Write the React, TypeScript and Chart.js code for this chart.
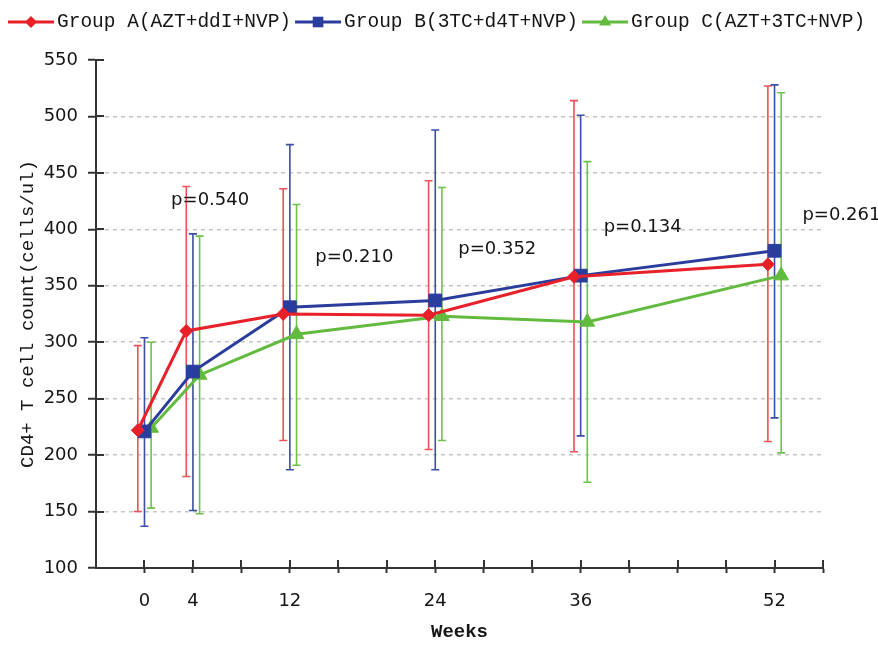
import React, { useEffect, useRef } from 'react';
import { Chart, registerables } from 'chart.js';
import { drawPoint } from 'chart.js/helpers';

Chart.register(...registerables);

// ---- data ----
const WEEKS = [0, 4, 12, 24, 36, 52];
const LABELED_WEEKS = [0, 4, 12, 24, 36, 52];
const SERIES_NAMES = ['Group A(AZT+ddI+NVP)', 'Group B(3TC+d4T+NVP)', 'Group C(AZT+3TC+NVP)'];
const X_OFFSETS = [-0.55, 0, 0.55];

const GROUP_A_MEAN = [222, 310, 325, 324, 358, 369];
const GROUP_A_UPPER = [297, 438, 436, 443, 514, 527];
const GROUP_A_LOWER = [150, 181, 213, 205, 203, 212];

const GROUP_B_MEAN = [221, 274, 331, 337, 359, 381];
const GROUP_B_UPPER = [304, 396, 475, 488, 501, 528];
const GROUP_B_LOWER = [137, 151, 187, 187, 217, 233];

const GROUP_C_MEAN = [224, 271, 307, 323, 318, 359];
const GROUP_C_UPPER = [300, 394, 422, 437, 460, 521];
const GROUP_C_LOWER = [153, 148, 191, 213, 176, 202];

const P_LABELS = ['p=0.540', 'p=0.210', 'p=0.352', 'p=0.134', 'p=0.261'];
const P_X = [2.2, 14.1, 25.9, 37.9, 54.3];
const P_Y = [426, 375, 382, 402, 412];

const Y_MIN = 100;
const Y_MAX = 550;
const Y_STEP = 50;
const X_MIN = -4;
const X_MAX = 56;
const X_STEP = 4;

// ---- styles ----
const MEANS = [GROUP_A_MEAN, GROUP_B_MEAN, GROUP_C_MEAN];
const UPPERS = [GROUP_A_UPPER, GROUP_B_UPPER, GROUP_C_UPPER];
const LOWERS = [GROUP_A_LOWER, GROUP_B_LOWER, GROUP_C_LOWER];
const LINE_COLORS = ['#e8202a', '#2b3d9c', '#62bb3e'];
const BAR_COLORS = ['#ef5055', '#3d4ca6', '#6cc24a'];
const POINT_STYLES = ['rectRot', 'rect', 'triangle'];
const POINT_RADII = [6.5, 9, 8.5];
const LEGEND_RADII = [6, 7.5, 7];
const AXIS_COLOR = '#333333';
const TEXT_COLOR = '#151515';
const SANS = "'DejaVu Sans', sans-serif";
const MONO = "'Liberation Mono', monospace";

const errorBarPlugin = {
  id: 'errorBars',
  beforeDatasetsDraw(chart: any) {
    const { ctx } = chart;
    const yScale = chart.scales.y;
    ctx.save();
    chart.data.datasets.forEach((_ds: any, i: number) => {
      const meta = chart.getDatasetMeta(i);
      ctx.strokeStyle = BAR_COLORS[i];
      ctx.lineWidth = 1.6;
      meta.data.forEach((pt: any, j: number) => {
        const x = pt.x;
        const yTop = yScale.getPixelForValue(UPPERS[i][j]);
        const yBot = yScale.getPixelForValue(LOWERS[i][j]);
        ctx.beginPath();
        ctx.moveTo(x, yTop);
        ctx.lineTo(x, yBot);
        ctx.moveTo(x - 4, yTop);
        ctx.lineTo(x + 4, yTop);
        ctx.moveTo(x - 4, yBot);
        ctx.lineTo(x + 4, yBot);
        ctx.stroke();
      });
    });
    ctx.restore();
  },
};

const annotationPlugin = {
  id: 'pLabels',
  afterDatasetsDraw(chart: any) {
    const { ctx } = chart;
    const xs = chart.scales.x;
    const ys = chart.scales.y;
    ctx.save();
    ctx.font = `18px ${SANS}`;
    ctx.fillStyle = TEXT_COLOR;
    ctx.textAlign = 'left';
    ctx.textBaseline = 'middle';
    P_LABELS.forEach((t, i) => {
      ctx.fillText(t, xs.getPixelForValue(P_X[i]), ys.getPixelForValue(P_Y[i]));
    });
    ctx.restore();
  },
};

const innerTicksPlugin = {
  id: 'innerTicks',
  afterDraw(chart: any) {
    const { ctx, chartArea } = chart;
    const xs = chart.scales.x;
    const ys = chart.scales.y;
    ctx.save();
    ctx.strokeStyle = AXIS_COLOR;
    ctx.lineWidth = 2;
    ctx.beginPath();
    xs.ticks.forEach((t: any) => {
      if (t.value === X_MIN) return;
      const x = Math.round(xs.getPixelForValue(t.value));
      ctx.moveTo(x, chartArea.bottom);
      ctx.lineTo(x, chartArea.bottom - 8);
    });
    ys.ticks.forEach((t: any) => {
      const y = Math.round(ys.getPixelForValue(t.value));
      ctx.moveTo(chartArea.left, y);
      ctx.lineTo(chartArea.left + 8, y);
    });
    ctx.stroke();
    ctx.restore();
  },
};

const legendPlugin = {
  id: 'customLegend',
  afterDraw(chart: any) {
    const { ctx } = chart;
    ctx.save();
    ctx.font = `19.5px ${MONO}`;
    ctx.textBaseline = 'middle';
    ctx.textAlign = 'left';
    const cy = 22;
    let x = 8;
    chart.data.datasets.forEach((ds: any, i: number) => {
      const lineLen = 46;
      ctx.strokeStyle = LINE_COLORS[i];
      ctx.lineWidth = 3;
      ctx.beginPath();
      ctx.moveTo(x, cy);
      ctx.lineTo(x + lineLen, cy);
      ctx.stroke();
      ctx.fillStyle = LINE_COLORS[i];
      drawPoint(ctx, { pointStyle: POINT_STYLES[i], radius: LEGEND_RADII[i], rotation: 0, borderWidth: 0 } as any, x + lineLen / 2, cy);
      ctx.fillStyle = TEXT_COLOR;
      const tx = x + lineLen + 3;
      ctx.fillText(ds.label, tx, cy);
      x = tx + ctx.measureText(ds.label).width + 4;
    });
    ctx.restore();
  },
};

export default function App() {
  const canvasRef = useRef<HTMLCanvasElement | null>(null);

  useEffect(() => {
    const canvas = canvasRef.current;
    if (!canvas) return;
    const datasets = MEANS.map((means, i) => ({
      label: SERIES_NAMES[i],
      data: WEEKS.map((w, j) => ({ x: w + X_OFFSETS[i], y: means[j] })),
      borderColor: LINE_COLORS[i],
      backgroundColor: LINE_COLORS[i],
      borderWidth: 3,
      pointStyle: POINT_STYLES[i],
      pointRadius: POINT_RADII[i],
      pointBorderWidth: 1,
      pointBorderColor: LINE_COLORS[i],
      pointBackgroundColor: LINE_COLORS[i],
      tension: 0,
      fill: false,
    }));

    const chart = new Chart(canvas, {
      type: 'line',
      data: { datasets },
      plugins: [errorBarPlugin, annotationPlugin, innerTicksPlugin, legendPlugin],
      options: {
        animation: false,
        responsive: true,
        maintainAspectRatio: false,
        layout: { padding: { left: 0, right: 55, top: 60, bottom: 0 } },
        plugins: {
          legend: { display: false },
          tooltip: { enabled: false },
        },
        scales: {
          x: {
            type: 'linear',
            min: X_MIN,
            max: X_MAX,
            afterFit: (s: any) => {
              s.height = 77;
            },
            ticks: {
              stepSize: X_STEP,
              autoSkip: false,
              maxRotation: 0,
              padding: 18,
              color: TEXT_COLOR,
              font: { family: SANS, size: 18 },
              callback: (v: any) => (LABELED_WEEKS.includes(Number(v)) ? String(v) : ''),
            },
            grid: {
              drawOnChartArea: false,
              drawTicks: true,
              tickLength: 5,
              tickWidth: 2,
              tickColor: (c: any) => (c.tick && c.tick.value === X_MIN ? 'rgba(0,0,0,0)' : AXIS_COLOR),
            },
            border: { display: true, color: AXIS_COLOR, width: 2 },
            title: {
              display: true,
              text: 'Weeks',
              color: TEXT_COLOR,
              font: { family: MONO, size: 19, weight: 'bold' },
              padding: { top: 0, bottom: 1 },
            },
          },
          y: {
            type: 'linear',
            min: Y_MIN,
            max: Y_MAX,
            afterFit: (s: any) => {
              s.width = 96;
            },
            ticks: {
              stepSize: Y_STEP,
              padding: 10,
              color: TEXT_COLOR,
              font: { family: SANS, size: 18 },
            },
            grid: {
              color: (c: any) =>
                c.tick && (c.tick.value === Y_MIN || c.tick.value === Y_MAX) ? 'rgba(0,0,0,0)' : '#c6c6c6',
              lineWidth: 1.5,
              tickLength: 8,
              tickWidth: 2,
              tickColor: AXIS_COLOR,
            },
            border: { display: true, color: AXIS_COLOR, width: 2, dash: [4, 4] },
            title: {
              display: true,
              text: 'CD4+ T cell count(cells/ul)',
              color: TEXT_COLOR,
              font: { family: MONO, size: 19 },
              padding: { top: 17, bottom: 0 },
            },
          },
        },
      } as any,
    });
    return () => chart.destroy();
  }, []);

  return (
    <div style={{ position: 'absolute', left: 0, top: 0, width: 878, height: 645, background: '#fff' }}>
      <canvas ref={canvasRef} />
    </div>
  );
}
